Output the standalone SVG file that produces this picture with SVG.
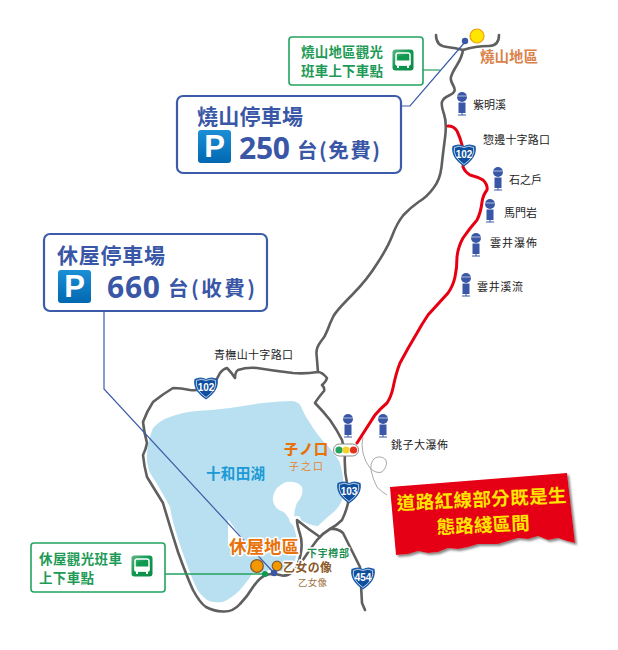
<svg xmlns="http://www.w3.org/2000/svg" width="618" height="650" viewBox="0 0 618 650">
<style>
text{font-family:"Noto Sans CJK TC","Noto Sans",sans-serif}
.road{fill:none;stroke:#5f5f5f;stroke-width:2.600;stroke-linecap:round;stroke-linejoin:round}
.casing{fill:none;stroke:#fff;stroke-width:8;stroke-linecap:round;stroke-linejoin:round}
.red{fill:none;stroke:#e60012;stroke-width:3;stroke-linecap:round}
.lbl{font-size:11px;fill:#222}
.bbox{fill:#fff;stroke:#3c5ba9;stroke-width:2.200}
.gbox{fill:#fff;stroke:#22a35f;stroke-width:1.600}
.bt{fill:#3957a6;font-weight:700}
.gt{fill:#1d9a55;font-size:13.500px;font-weight:700}
.sh{fill:#fff;font-size:10px;font-weight:700;font-family:"Liberation Sans",sans-serif;text-anchor:middle}
.halo{paint-order:stroke;stroke:#fff;stroke-width:3px;stroke-linejoin:round}
</style>
<defs>
<linearGradient id="pg" x1="0" y1="0" x2="0" y2="1"><stop offset="0" stop-color="#1c8fd6"/><stop offset="1" stop-color="#0068b0"/></linearGradient>
<linearGradient id="bg" x1="0" y1="0" x2="1" y2="1"><stop offset="0" stop-color="#5fb585"/><stop offset=".45" stop-color="#0f9a50"/><stop offset="1" stop-color="#0b8a45"/></linearGradient>
<filter id="ds" x="-5%" y="-5%" width="112%" height="115%"><feDropShadow dx="2" dy="2" stdDeviation="1.200" flood-color="#555" flood-opacity=".7"/></filter>
<g id="pin">
<circle cx="0" cy="0" r="5" fill="#3957a6"/><path d="M-5,-1H5" stroke="#fff" stroke-width=".6"/>
<rect x="-3.500" y="5.500" width="7" height="10.500" fill="#3957a6"/><path d="M0,16V18M-4,18H4" stroke="#3957a6" stroke-width="1"/>
</g>
<g id="shield">
<path d="M-11.500,-8 Q-5,-11 0,-8 Q5,-11 11.500,-8 Q14,3 0,12.500 Q-14,3 -11.500,-8Z" fill="#1a5ca8"/>
<path d="M-9.500,-6.500 Q-5,-9 0,-6.500 Q5,-9 9.500,-6.500 Q11.500,2.500 0,10.500 Q-11.500,2.500 -9.500,-6.500Z" fill="#0f4f9e" stroke="#fff" stroke-width=".7"/>
</g>
<g id="bus">
<rect x="-10.500" y="-10.500" width="21" height="21" rx="3" fill="url(#bg)"/>
<rect x="-7" y="-7" width="14" height="12" rx="2" fill="none" stroke="#fff" stroke-width="1.500"/>
<rect x="-4.500" y="-4" width="9" height="4" fill="#0f9a50"/>
<rect x="-7.500" y="0.500" width="15" height="5" rx="1" fill="#fff"/>
<path d="M-5,5.500V8M5,5.500V8" stroke="#fff" stroke-width="2"/>
</g>
</defs>
<rect width="618" height="650" fill="#fff"/>

<g id="lake">
<path fill="#b9e0f0" d="M153,428 Q160,420 170,417 Q183,412 197,411 Q215,410 230,408 Q247,405 263,403 Q280,401 293,401 Q300,402 302,409 Q305,416 310,423 Q315,432 324,442 Q335,453 340,463 Q345,480 343,497 Q340,508 330,515 Q322,522 318,526 Q310,526 297,518 L296,560 Q296,570 285,574 L253,573 Q247,582 240,590 Q232,598 223,602 Q212,603 207,600 Q198,593 193,583 Q185,560 177,537 Q172,520 170,507 Q160,488 150,473 Q146,462 147,453 Q148,440 153,428Z"/>
<path fill="#fff" d="M273,497 Q275,486 286,482 Q298,481 302,487 Q304,495 297,503 Q293,512 295,522 L297,530 L290,522 Q287,512 279,510 Q272,505 273,497Z"/>
<path fill="#fff" d="M228,519 L244,541 L228,545Z"/>
</g>

<g id="roads">
<path class="casing" d="M163,503 Q170,527 178,552 Q187,577 193,590 Q200,603 206,607 Q213,611 223,611.500 Q233,612 240,604 Q247,597 253,587 Q260,577 266,575 Q273,573 280,575 Q287,577 292,572 Q298,567 300.500,555 Q303,543 300,534 Q297,525 297,520"/>
<path class="road" d="M318,372 Q305,374 293,373 Q275,371 257,368 Q247,367 238,370 Q235,372 235,378 Q232,373 227,368 Q223,369 220,373 Q218,377 215,382 Q211,386 206,388 Q198,391 190,390 Q181,388 173,388 Q163,394 153,402 Q147,411 143,422 Q144,432 147,443 Q146,449 143,455 Q144,466 147,477 Q155,490 163,503 Q170,527 178,552 Q187,577 193,590 Q200,603 206,607 Q213,611 223,611.500 Q233,612 240,604 Q247,597 253,587 Q260,577 266,575 Q273,573 280,575 Q287,577 292,572 Q298,567 300.500,555 Q303,543 300,534 Q297,525 297,520 Q308,529 320,537"/>
<path class="road" d="M463,50 Q462,57 457,65 Q452,73 451,77 Q450,80 453.500,86 Q457,92 450,95 Q443,98 442,102 Q441,105 444,114 Q447,123 445,138 Q443,153 441.500,167 Q440,180 433.500,188 Q427,197 418.500,202 Q410,208 403.500,215 Q397,223 392.500,235 Q388,247 377.500,263 Q367,280 352,295 Q337,310 333.500,316 Q330,323 327.500,330 Q325,337 320.500,342 Q316,348 316.500,354 Q317,360 318,372"/>
<path class="road" d="M436,35 Q436,46 447,47 Q456,48 463,50 Q475,46 489,46 Q499,46 499,35"/>
<path class="road" d="M318,372 Q322,372 327,378 Q326,382 322,385 Q325,388 324,391 Q318,398 315,403 Q322,410 330,420 Q337,430 342,440 L345,453 Q344,470 347,483 L348,503 Q346,512 342,520 Q336,526 330,529 Q323,533 317,540 Q308,552 297,569"/>
<path class="road" d="M330,529 Q338,528 343,533 Q351,549 360,567 L362,603 L365,610"/>
<path fill="none" stroke="#aaa" stroke-width="1" d="M363,437 Q361,445 363,453 Q365,462 370,468 Q376,474 382,472 Q388,466 386,460 Q381,455 375,458 Q370,462 371,470 Q373,480 377,487 Q382,492 387,495"/>
<path class="red" d="M448,126 Q454,126 457,131 Q460,137 462,145 L464,154 L463,167 Q465,172 470,175 Q478,177 483,180 Q488,185 487,190 Q483,195 482,202 Q481,212 477,220 Q470,228 463,238 Q458,247 457,257 Q457,268 455,277 Q453,286 448,293 Q438,304 428,315 Q422,324 417,333 Q408,348 400,363 Q396,373 393,388 Q391,397 387,403 Q381,408 375,415 Q366,429 357,443"/>
</g>

<g id="connectors">
<path fill="none" stroke="#3c5ba9" stroke-width="1.200" d="M401,106H410L465,42"/>
<path fill="none" stroke="#22a35f" stroke-width="1.200" d="M423,70H440"/>
<path fill="none" stroke="#3c5ba9" stroke-width="1.200" d="M104,311V389L274,573"/>
<path fill="none" stroke="#22a35f" stroke-width="1.400" d="M165,574H265"/>
</g>

<g id="node-yakeyama-bus">
<rect class="gbox" x="289" y="37" width="134" height="48" rx="3"/>
<text class="gt" x="301" y="57" textLength="82">燒山地區觀光</text>
<text class="gt" x="301" y="76" textLength="82">班車上下車點</text>
<use href="#bus" x="403" y="60"/>
</g>
<g id="node-yakeyama-area">
<circle cx="465" cy="41" r="3.200" fill="#3957a6"/>
<circle cx="477" cy="36" r="7" fill="#ffe600" stroke="#f39c12" stroke-width="1.200"/>
<text x="480" y="62" font-size="14.500" font-weight="700" fill="#d9824a" textLength="58">燒山地區</text>
</g>
<g id="node-yakeyama-parking">
<rect class="bbox" x="177" y="96" width="224" height="77" rx="6"/>
<text class="bt" x="197" y="124" font-size="21" textLength="106">燒山停車場</text>
<rect x="198" y="130" width="33" height="33" rx="3" fill="url(#pg)"/>
<text x="214.500" y="157" font-size="31" font-weight="700" fill="#fff" text-anchor="middle" style="font-family:'Liberation Sans',sans-serif">P</text>
<text x="239" y="159" font-size="30" font-weight="700" fill="#3957a6" textLength="51" style="font-family:'Open Sans',sans-serif">250</text>
<text class="bt" x="297" y="157.500" font-size="20.500" letter-spacing="1.500">台(免費)</text>
</g>
<g id="node-kyuoku-parking">
<rect class="bbox" x="44" y="234" width="223" height="77" rx="6"/>
<text class="bt" x="57" y="263" font-size="21" textLength="108">休屋停車場</text>
<rect x="58" y="270" width="33" height="33" rx="3" fill="url(#pg)"/>
<text x="74.500" y="297" font-size="31" font-weight="700" fill="#fff" text-anchor="middle" style="font-family:'Liberation Sans',sans-serif">P</text>
<text x="107" y="298" font-size="30" font-weight="700" fill="#3957a6" textLength="53" style="font-family:'Open Sans',sans-serif">660</text>
<text class="bt" x="168" y="295.500" font-size="20.500" letter-spacing="2.500">台(收費)</text>
</g>

<g id="shields">
<g transform="translate(464,154)"><use href="#shield"/><text class="sh" y="3.500">102</text></g>
<g transform="translate(206,387)"><use href="#shield"/><text class="sh" y="3.500">102</text></g>
<g transform="translate(349,491)"><use href="#shield"/><text class="sh" y="3.500">103</text></g>
<g transform="translate(363,577)"><use href="#shield"/><text class="sh" y="3.500">454</text></g>
</g>

<g id="pins">
<use href="#pin" x="462" y="97"/><use href="#pin" x="498" y="172"/><use href="#pin" x="490" y="204"/>
<use href="#pin" x="476" y="238"/><use href="#pin" x="466" y="278"/><use href="#pin" x="348" y="419"/><use href="#pin" x="383" y="419"/>
</g>
<g id="labels">
<text class="lbl" x="473" y="109">紫明溪</text>
<text class="lbl" x="483" y="144" textLength="67">惣邊十字路口</text>
<text class="lbl" x="509" y="184">石之戶</text>
<text class="lbl" x="504" y="217">馬門岩</text>
<text class="lbl" x="490" y="247" textLength="47">雲井瀑佈</text>
<text class="lbl" x="477" y="291" textLength="46">雲井溪流</text>
<text class="lbl" x="391" y="449" textLength="57">銚子大瀑佈</text>
<text class="lbl" x="214" y="359" textLength="79">青橅山十字路口</text>
<text x="206" y="479" font-size="14.500" font-weight="700" fill="#1a9ad6" textLength="59">十和田湖</text>
</g>

<g id="node-nenokuchi">
<rect x="333.500" y="444" width="25" height="12" rx="6" fill="#fff" stroke="#888" stroke-width="1"/>
<circle cx="339" cy="450" r="3.600" fill="#22a35f"/><circle cx="346" cy="450" r="3.600" fill="#f5d327"/><circle cx="353.500" cy="450" r="3.600" fill="#e8301c"/>
<text x="284" y="454" font-size="14" font-weight="900" fill="#e8720c" textLength="44">子ノ口</text>
<text x="289" y="470" font-size="10" fill="#e8822c" textLength="34">子之口</text>
</g>

<g id="node-kyuoku">
<text class="halo" x="229" y="553" font-size="17.500" font-weight="700" fill="#e8720c" textLength="70">休屋地區</text>
<circle cx="257" cy="566" r="6.300" fill="#f39800" stroke="#8a5a2b" stroke-width="1.300"/>
<circle cx="277" cy="566" r="4.800" fill="#f39800" stroke="#8a5a2b" stroke-width="1.200"/>
<circle cx="265" cy="574" r="3" fill="#0f9a50"/>
<circle cx="274" cy="573" r="3.300" fill="#3957a6"/>
<text class="halo" x="283" y="572" font-size="12" font-weight="700" fill="#8a5a2b" textLength="49">乙女の像</text>
<text x="298" y="585.500" font-size="9.500" fill="#a07444" textLength="29">乙女像</text>
<text class="halo" x="307" y="556.500" font-size="10" font-weight="700" fill="#1a8f4f" textLength="42">下宇樽部</text>
</g>
<g id="node-kyuoku-bus">
<rect class="gbox" x="31" y="543" width="134" height="49" rx="3"/>
<text class="gt" x="39" y="564" textLength="83">休屋觀光班車</text>
<text class="gt" x="39" y="583" textLength="55">上下車點</text>
<use href="#bus" x="142" y="566"/>
</g>

<g id="banner">
<path filter="url(#ds)" fill="#e60012" d="M390,487 L567,473 L575,543 L567,541 L558,538 L548,540 L538,536 L528,539 L518,538 L508,541 L498,544 L488,544 L478,544 L468,547 L458,549 L448,548 L438,552 L428,553 L418,551 L408,554 L396,555Z"/>
<text x="397" y="510" font-size="18.500" font-weight="700" fill="#ffe600" transform="rotate(-2.700 397 510)" textLength="170">道路紅線部分既是生</text>
<text x="437" y="534" font-size="18.500" font-weight="700" fill="#ffe600" transform="rotate(-2.700 437 534)" textLength="93">態路綫區間</text>
</g>
</svg>
